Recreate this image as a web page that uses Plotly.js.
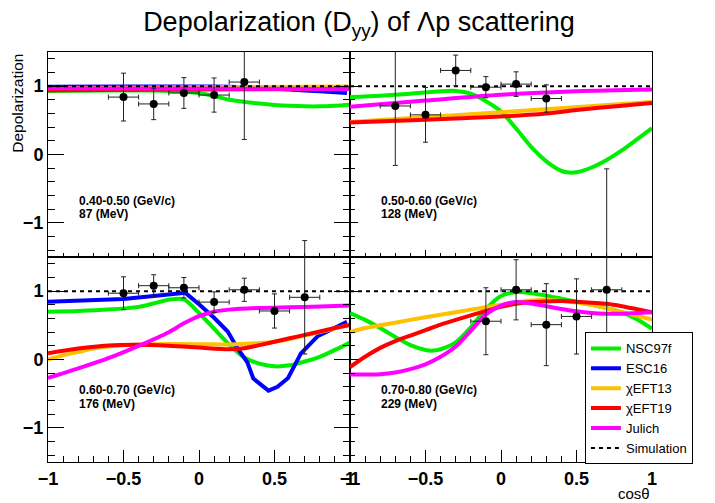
<!DOCTYPE html>
<html><head><meta charset="utf-8">
<script src="https://cdn.plot.ly/plotly-3.0.1.min.js"></script>
<style>html,body{margin:0;padding:0;background:#fff}#chart{width:715px;height:503px}</style>
</head><body><div id="chart"></div>
<script>
// ---- series names / colours ----
const seriesNames = ['NSC97f','ESC16','\u03c7EFT13','\u03c7EFT19','Julich','Simulation'];
const seriesColors = ['#00ee00','#0000ff','#ffc000','#ff0000','#ff00ff','#000000'];
const momLabels = ['0.40-0.50 (GeV/c)','0.50-0.60 (GeV/c)','0.60-0.70 (GeV/c)','0.70-0.80 (GeV/c)'];
const energyLabels = ['87 (MeV)','128 (MeV)','176 (MeV)','229 (MeV)'];
const xTickVals = [-1,-0.5,0,0.5,1];
const yTickVals = [-1,0,1];
const simX = [-1,1];
const simY = [1,1];
const xErrHalf = 0.1;

// ---- panel 1: 0.40-0.50 ----
const xTL = [-0.5,-0.3,-0.1,0.1,0.3];
const yTL = [0.84,0.74,0.90,0.87,1.06];
const eTL = [0.35,0.23,0.225,0.25,0.84];
const nscTL_x = [-1,-0.6,-0.3,-0.1,0,0.1,0.2,0.3,0.4,0.5,0.6,0.7,0.8,0.9,1];
const nscTL_y = [0.93,0.935,0.935,0.92,0.90,0.855,0.80,0.77,0.745,0.725,0.712,0.705,0.705,0.715,0.73];
const escTL_x = [-1,-0.5,0,0.2,0.4,0.6,0.8,0.98];
const escTL_y = [0.99,0.995,0.995,0.99,0.975,0.95,0.925,0.90];
const e13TL_x = [-1,0,1];
const e13TL_y = [0.975,0.985,0.995];
const e19TL_x = [-1,0,1];
const e19TL_y = [0.94,0.95,0.96];
const julTL_x = [-1,0,1];
const julTL_y = [0.97,0.965,0.96];

// ---- panel 2: 0.50-0.60 ----
const xTR = [-0.7,-0.5,-0.3,-0.1,0.1,0.3];
const yTR = [0.71,0.58,1.23,0.985,1.03,0.82];
const eTR = [0.87,0.40,0.225,0.155,0.18,0.20];
const nscTR_x = [-1,-0.8,-0.6,-0.4,-0.3,-0.2,-0.1,0,0.1,0.2,0.3,0.4,0.45,0.5,0.6,0.7,0.8,0.9,1];
const nscTR_y = [0.84,0.86,0.89,0.925,0.93,0.89,0.78,0.63,0.38,0.11,-0.10,-0.24,-0.265,-0.26,-0.19,-0.08,0.06,0.22,0.385];
const e13TR_x = [-1,0,1];
const e13TR_y = [0.475,0.62,0.77];
const e19TR_x = [-1,-0.5,0,0.3,0.5,0.8,1];
const e19TR_y = [0.47,0.51,0.555,0.60,0.65,0.715,0.755];
const julTR_x = [-1,-0.5,0,0.5,1];
const julTR_y = [0.70,0.79,0.875,0.925,0.95];

// ---- panel 3: 0.60-0.70 ----
const xBL = [-0.5,-0.3,-0.1,0.1,0.3,0.5,0.7];
const yBL = [0.97,1.08,1.05,0.84,1.02,0.71,0.91];
const eBL = [0.24,0.16,0.15,0.15,0.17,0.25,0.83];
const nscBL_x = [-1,-0.8,-0.6,-0.4,-0.3,-0.2,-0.1,0,0.1,0.2,0.3,0.4,0.5,0.6,0.7,0.8,0.9,1];
const nscBL_y = [0.70,0.71,0.73,0.77,0.82,0.875,0.88,0.68,0.45,0.22,0.03,-0.06,-0.10,-0.085,-0.03,0.04,0.14,0.25];
const escBL_x = [-1,-0.5,-0.3,-0.09,0,0.1,0.19,0.25,0.32,0.36,0.46,0.52,0.59,0.675,0.785,0.9,0.98];
const escBL_y = [0.845,0.885,0.93,0.975,0.81,0.61,0.41,0.18,-0.04,-0.28,-0.455,-0.40,-0.27,0.09,0.34,0.46,0.55];
const e13BL_x = [-1,-0.9,-0.8,-0.7,-0.6,-0.5,-0.3,0,0.2,0.4,0.5,0.6,0.7,0.8,0.9,1];
const e13BL_y = [0.0,0.06,0.11,0.16,0.19,0.21,0.225,0.225,0.22,0.24,0.26,0.30,0.35,0.40,0.455,0.51];
const e19BL_x = [-1,-0.8,-0.6,-0.4,-0.2,0,0.2,0.3,0.4,0.5,0.6,0.7,0.8,0.9,1];
const e19BL_y = [0.09,0.16,0.205,0.215,0.20,0.175,0.15,0.165,0.21,0.26,0.31,0.36,0.41,0.46,0.505];
const julBL_x = [-1,-0.8,-0.6,-0.4,-0.2,-0.1,0,0.1,0.2,0.4,0.6,0.8,1];
const julBL_y = [-0.27,-0.13,0.02,0.20,0.40,0.53,0.635,0.70,0.73,0.755,0.765,0.775,0.79];

// ---- panel 4: 0.70-0.80 ----
const xBR = [-0.1,0.1,0.3,0.5,0.7];
const yBR = [0.56,1.02,0.51,0.63,1.02];
const eBR = [0.49,0.44,0.60,0.55,1.77];
const nscBR_x = [-1,-0.9,-0.8,-0.7,-0.6,-0.5,-0.45,-0.4,-0.3,-0.2,-0.1,0,0.1,0.2,0.3,0.4,0.5,0.6,0.7,0.8,0.9,1];
const nscBR_y = [0.68,0.58,0.46,0.33,0.21,0.14,0.13,0.15,0.25,0.47,0.74,0.93,0.985,0.97,0.935,0.89,0.845,0.80,0.755,0.69,0.59,0.45];
const e13BR_x = [-1,-0.9,-0.8,-0.6,-0.4,-0.2,0,0.2,0.3,0.4,0.5,0.6,0.7,0.8,0.9,1];
const e13BR_y = [0.40,0.46,0.50,0.58,0.655,0.73,0.80,0.865,0.87,0.86,0.835,0.80,0.75,0.695,0.64,0.585];
const e19BR_x = [-1,-0.9,-0.8,-0.7,-0.6,-0.5,-0.4,-0.3,-0.2,-0.1,0,0.1,0.2,0.3,0.4,0.5,0.6,0.7,0.8,0.9,1];
const e19BR_y = [-0.11,0.04,0.17,0.27,0.35,0.43,0.51,0.58,0.645,0.71,0.77,0.815,0.84,0.85,0.855,0.845,0.83,0.815,0.78,0.735,0.69];
const julBR_x = [-1,-0.8,-0.7,-0.6,-0.5,-0.4,-0.3,-0.2,-0.1,0,0.1,0.2,0.3,0.4,0.5,0.6,0.7,0.8,0.9,1];
const julBR_y = [-0.22,-0.215,-0.19,-0.14,-0.07,0.04,0.19,0.42,0.66,0.79,0.84,0.82,0.78,0.74,0.705,0.68,0.67,0.67,0.68,0.69];

// Bottom-row data points sit on tall helper y axes (same scale as the bottom
// panels, extended over the top row) so their long error bars are not cut at the panel edge.
const panels = [
  {xa:'x',  ya:'y',  pya:'y',  curves:[[nscTL_x,nscTL_y],[escTL_x,escTL_y],[e13TL_x,e13TL_y],[e19TL_x,e19TL_y],[julTL_x,julTL_y]], pts:[xTL,yTL,eTL]},
  {xa:'x2', ya:'y2', pya:'y2', curves:[[nscTR_x,nscTR_y],null,[e13TR_x,e13TR_y],[e19TR_x,e19TR_y],[julTR_x,julTR_y]], pts:[xTR,yTR,eTR]},
  {xa:'x3', ya:'y3', pya:'y5', curves:[[nscBL_x,nscBL_y],[escBL_x,escBL_y],[e13BL_x,e13BL_y],[e19BL_x,e19BL_y],[julBL_x,julBL_y]], pts:[xBL,yBL,eBL]},
  {xa:'x4', ya:'y4', pya:'y6', curves:[[nscBR_x,nscBR_y],null,[e13BR_x,e13BR_y],[e19BR_x,e19BR_y],[julBR_x,julBR_y]], pts:[xBR,yBR,eBR]}
];

const FONT = 'Liberation Sans, Arial, Helvetica, sans-serif';
const traces = [];
panels.forEach((p, pi) => {
  p.curves.forEach((c, ci) => {
    if (!c) return;
    const linear = (ci === 1 && pi === 2);
    traces.push({
      type:'scatter', mode:'lines', x:c[0], y:c[1], xaxis:p.xa, yaxis:p.ya,
      name:seriesNames[ci], legendgroup:seriesNames[ci], showlegend: pi === 0,
      line:{color:seriesColors[ci], width:4, shape: linear ? 'linear' : 'spline', smoothing:0.8},
      hoverinfo:'skip'
    });
  });
  traces.push({
    type:'scatter', mode:'lines', x:simX, y:simY, xaxis:p.xa, yaxis:p.ya,
    name:seriesNames[5], legendgroup:seriesNames[5], showlegend: pi === 0,
    line:{color:seriesColors[5], width:2, dash:'4px,4px'}, hoverinfo:'skip'
  });
  traces.push({
    type:'scatter', mode:'markers', x:p.pts[0], y:p.pts[1], xaxis:p.xa, yaxis:p.pya,
    showlegend:false,
    marker:{color:'#000', size:8},
    error_y:{type:'data', array:p.pts[2], visible:true, color:'#222', thickness:1, width:2.5},
    error_x:{type:'constant', value:xErrHalf, visible:true, color:'#222', thickness:1, width:2.5}
  });
});

function xax(domain, bottom){
  return {domain:domain, range:[-1,1], showgrid:false, zeroline:false,
    showline:true, linecolor:'#000', linewidth:1, mirror:true,
    ticks:'inside', tickvals:xTickVals, ticklen: bottom ? 12 : 7, tickcolor:'#000', tickwidth:1,
    minor:{dtick:0.1, tick0:-1, ticks:'inside', ticklen: bottom ? 6 : 4, tickcolor:'#000'},
    showticklabels:bottom, tickfont:{family:FONT, size:18, weight:'bold', color:'#000'}, fixedrange:true};
}
function yax(domain, left, anchor){
  return {domain:domain, range:[-1.5,1.5], showgrid:false, zeroline:false, anchor:anchor,
    showline:true, linecolor:'#000', linewidth:1, mirror: left ? 'ticks' : true,
    ticks:'inside', tickvals:yTickVals, ticklen: left ? 16 : 8, tickcolor:'#000', tickwidth:1,
    minor:{dtick:0.2, tick0:0, ticks:'inside', ticklen: left ? 7 : 5, tickcolor:'#000'},
    showticklabels:left, tickfont:{family:FONT, size:18, weight:'bold', color:'#000'}, fixedrange:true};
}
function helperY(anchor){
  // twice the height of a bottom panel, twice the span -> identical scale
  return {domain:[0,1], range:[-1.5,4.5], anchor:anchor, visible:false, showgrid:false, zeroline:false, fixedrange:true};
}

const XL = [0,0.5], XR = [0.5,1], YT = [0.5,1], YB = [0,0.5];
const annPos = [
  {xr:'x', yr:'y', y1:-0.687, y2:-0.868},
  {xr:'x2', yr:'y2', y1:-0.687, y2:-0.868},
  {xr:'x3', yr:'y3', y1:-0.446, y2:-0.651},
  {xr:'x4', yr:'y4', y1:-0.446, y2:-0.651}
];
const annotations = [];
annPos.forEach((a, i) => {
  annotations.push({xref:a.xr, yref:a.yr, x:-0.805, y:a.y1, xanchor:'left', yanchor:'middle', showarrow:false,
    text:momLabels[i], font:{family:FONT, size:12, weight:'bold', color:'#000'}});
  annotations.push({xref:a.xr, yref:a.yr, x:-0.805, y:a.y2, xanchor:'left', yanchor:'middle', showarrow:false,
    text:energyLabels[i], font:{family:FONT, size:12, weight:'bold', color:'#000'}});
});
annotations.push({xref:'paper', yref:'paper', x:-0.051, y:1.0, xanchor:'center', yanchor:'top', textangle:-90,
  showarrow:false, text:'Depolarization', font:{family:FONT, size:15.5, color:'#000'}});
annotations.push({xref:'paper', yref:'paper', x:1.0, y:-0.076, xanchor:'right', yanchor:'middle',
  showarrow:false, text:'cos\u03b8', font:{family:FONT, size:15, color:'#000'}});

const layout = {
  width:715, height:503, paper_bgcolor:'#fff', plot_bgcolor:'rgba(0,0,0,0)',
  margin:{l:48, r:63, t:52, b:41},
  title:{text:'Depolarization (D<sub>yy</sub>) of \u039bp scattering', x:0.502, xanchor:'center',
    y:0.975, yanchor:'top', yref:'container', font:{family:FONT, size:27, color:'#000'}},
  xaxis: Object.assign(xax(XL,false), {anchor:'y'}),
  xaxis2: Object.assign(xax(XR,false), {anchor:'y2'}),
  xaxis3: Object.assign(xax(XL,true), {anchor:'y3'}),
  xaxis4: Object.assign(xax(XR,true), {anchor:'y4'}),
  yaxis: yax(YT,true,'x'),
  yaxis2: yax(YT,false,'x2'),
  yaxis3: yax(YB,true,'x3'),
  yaxis4: yax(YB,false,'x4'),
  yaxis5: helperY('x3'),
  yaxis6: helperY('x4'),
  showlegend:true,
  legend:{x:0.889, xanchor:'left', y:0.316, yanchor:'top', bgcolor:'#fff', bordercolor:'#000', borderwidth:1,
    font:{family:FONT, size:13, color:'#000'}, tracegroupgap:0, itemwidth:30},
  annotations:annotations,
  hovermode:false
};

Plotly.newPlot('chart', traces, layout, {displayModeBar:false, staticPlot:true});
</script></body></html>
